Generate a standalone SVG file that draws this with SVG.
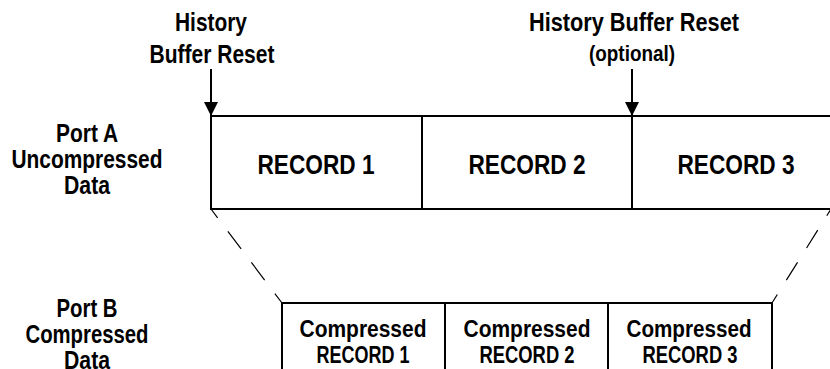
<svg xmlns="http://www.w3.org/2000/svg" width="830" height="369" viewBox="0 0 830 369">
<style>
text{font-family:"Liberation Sans Narrow","Liberation Sans",Arial,sans-serif;font-weight:bold;fill:#000;text-anchor:middle}
.lbl{font-size:25px}
.rec{font-size:27px}
.crec{font-size:23px}
.opt{font-size:22px}
.box{fill:#fff;stroke:#000;stroke-width:2}
.dash{stroke:#000;stroke-width:1.2;fill:none;stroke-dasharray:22 17;stroke-dashoffset:11}
.arr{stroke:#000;stroke-width:2}
</style>
<defs>
<marker id="ah" viewBox="0 0 14 14" refX="14" refY="7" markerWidth="14" markerHeight="14" markerUnits="userSpaceOnUse" orient="auto">
<path d="M0,0 L14,7 L0,14 Z" fill="#000"/>
</marker>
</defs>
<rect width="830" height="369" fill="#fff"/>

<g id="label-reset1">
<text class="lbl" x="211" y="31" textLength="72" lengthAdjust="spacingAndGlyphs">History</text>
<text class="lbl" x="212" y="63" textLength="125" lengthAdjust="spacingAndGlyphs">Buffer Reset</text>
</g>
<g id="label-reset2">
<text class="lbl" x="634" y="31" textLength="210" lengthAdjust="spacingAndGlyphs">History Buffer Reset</text>
<text class="opt" x="632" y="61" textLength="86" lengthAdjust="spacingAndGlyphs">(optional)</text>
</g>
<g id="label-portA">
<text class="lbl" x="87" y="142" textLength="62" lengthAdjust="spacingAndGlyphs">Port A</text>
<text class="lbl" x="87" y="168" textLength="151" lengthAdjust="spacingAndGlyphs">Uncompressed</text>
<text class="lbl" x="87" y="194" textLength="46" lengthAdjust="spacingAndGlyphs">Data</text>
</g>
<g id="label-portB">
<text class="lbl" x="87" y="317" textLength="61" lengthAdjust="spacingAndGlyphs">Port B</text>
<text class="lbl" x="87" y="343" textLength="123" lengthAdjust="spacingAndGlyphs">Compressed</text>
<text class="lbl" x="87" y="369" textLength="46" lengthAdjust="spacingAndGlyphs">Data</text>
</g>

<g id="record1">
<rect class="box" x="211" y="116" width="211" height="93"/>
<text class="rec" x="316" y="174" textLength="117" lengthAdjust="spacingAndGlyphs">RECORD 1</text>
</g>
<g id="record2">
<rect class="box" x="422" y="116" width="210" height="93"/>
<text class="rec" x="527" y="174" textLength="117" lengthAdjust="spacingAndGlyphs">RECORD 2</text>
</g>
<g id="record3">
<rect class="box" x="632" y="116" width="210" height="93"/>
<text class="rec" x="736" y="174" textLength="117" lengthAdjust="spacingAndGlyphs">RECORD 3</text>
</g>

<g id="crecord1">
<rect class="box" x="282" y="303" width="163" height="80"/>
<text class="crec" x="363" y="337" textLength="127" lengthAdjust="spacingAndGlyphs">Compressed</text>
<text class="crec" x="363" y="363" textLength="93" lengthAdjust="spacingAndGlyphs">RECORD 1</text>
</g>
<g id="crecord2">
<rect class="box" x="445" y="303" width="163" height="80"/>
<text class="crec" x="527" y="337" textLength="127" lengthAdjust="spacingAndGlyphs">Compressed</text>
<text class="crec" x="527" y="363" textLength="95" lengthAdjust="spacingAndGlyphs">RECORD 2</text>
</g>
<g id="crecord3">
<rect class="box" x="608" y="303" width="164" height="80"/>
<text class="crec" x="689" y="337" textLength="125" lengthAdjust="spacingAndGlyphs">Compressed</text>
<text class="crec" x="690" y="363" textLength="95" lengthAdjust="spacingAndGlyphs">RECORD 3</text>
</g>

<g id="connectors">
<line class="arr" x1="211" y1="69" x2="211" y2="116" marker-end="url(#ah)"/>
<line class="arr" x1="632" y1="69" x2="632" y2="116" marker-end="url(#ah)"/>
<line class="dash" x1="211" y1="209" x2="282" y2="303"/>
<line class="dash" x1="772" y1="303" x2="831" y2="209" style="stroke-dasharray:21 17"/>
</g>
</svg>
